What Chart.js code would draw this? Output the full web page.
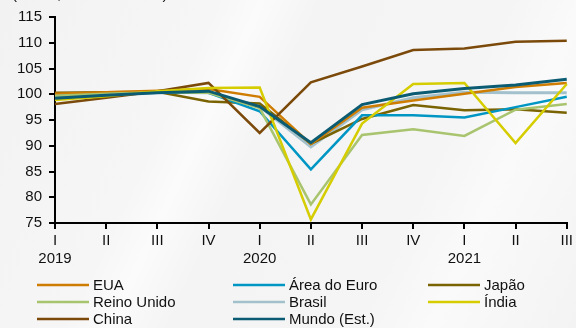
<!DOCTYPE html>
<html>
<head>
<meta charset="utf-8">
<script src="https://cdn.jsdelivr.net/npm/chart.js@4.4.1/dist/chart.umd.min.js"></script>
<style>
  html, body { margin: 0; padding: 0; }
  body {
    width: 576px; height: 328px; overflow: hidden;
    background: linear-gradient(115deg, #f2f2f2 0%, #f6f6f6 30%, #fbfbfb 36%, #f4f4f4 44%, #f5f5f5 70%, #fafafa 80%, #f3f3f3 100%);
  }
  #wrap { position: relative; width: 576px; height: 328px; }
</style>
</head>
<body>
<div id="wrap"><canvas id="pib" width="576" height="328"></canvas></div>
<script>
// trimestres e anos
const quarters = ['I', 'II', 'III', 'IV', 'I', 'II', 'III', 'IV', 'I', 'II', 'III'];
const years = ['2019', '', '', '', '2020', '', '', '', '2021', '', ''];
const yTicks = [75, 80, 85, 90, 95, 100, 105, 110, 115];

// PIB trimestral, índice
const eua = [100.1, 100.4, 100.7, 101.0, 99.5, 90.3, 97.4, 98.8, 100.1, 101.4, 102.2];
const areaEuro = [99.6, 100.0, 100.3, 100.3, 96.7, 85.4, 95.9, 95.9, 95.5, 97.5, 99.5];
const japao = [100.3, 100.4, 100.5, 98.6, 98.2, 90.4, 95.2, 97.9, 96.9, 97.1, 96.4];
const reinoUnido = [99.7, 100.1, 100.4, 100.3, 97.3, 78.6, 92.1, 93.2, 91.9, 97.0, 98.1];
const brasil = [99.8, 100.2, 100.4, 100.3, 97.6, 89.8, 97.0, 99.3, 100.4, 100.3, 100.3];
const india = [98.9, 99.6, 100.6, 101.2, 101.3, 75.7, 94.3, 102.0, 102.2, 90.5, 102.0];
const china = [98.1, 99.3, 100.6, 102.2, 92.5, 102.3, 105.4, 108.6, 108.9, 110.2, 110.4];
const mundo = [99.2, 99.8, 100.3, 100.6, 97.6, 90.6, 98.0, 100.1, 101.1, 101.8, 102.9];

const series = [
  { label: 'EUA', data: eua, color: '#cf7d02', width: 2.5, order: 6 },
  { label: 'Área do Euro', data: areaEuro, color: '#0096c4', width: 2.5, order: 5 },
  { label: 'Japão', data: japao, color: '#7a6302', width: 2.5, order: 7 },
  { label: 'Reino Unido', data: reinoUnido, color: '#a9c46e', width: 2.5, order: 4 },
  { label: 'Brasil', data: brasil, color: '#a3c1cc', width: 3, order: 8 },
  { label: 'Índia', data: india, color: '#d5cd00', width: 2.5, order: 2 },
  { label: 'China', data: china, color: '#7b4a0a', width: 2.5, order: 3 },
  { label: 'Mundo (Est.)', data: mundo, color: '#0b5c73', width: 3, order: 1 }
];

const font = { family: '"Liberation Sans", Arial, sans-serif', size: 15 };

// legenda em três colunas e título cortado no topo
const extras = {
  id: 'extras',
  afterDraw(chart) {
    const ctx = chart.ctx;
    ctx.save();
    ctx.font = '15px "Liberation Sans", Arial, sans-serif';
    ctx.fillStyle = '#111';
    ctx.textBaseline = 'alphabetic';
    ctx.textAlign = 'left';
    ctx.fillText('(Índice, 4T 2019 = 100)', 12, -1);

    const cols = [37, 233, 428];
    const rows = [285, 302, 319];
    ctx.textBaseline = 'middle';
    series.forEach((s, i) => {
      const x = cols[i % 3];
      const y = rows[Math.floor(i / 3)];
      ctx.strokeStyle = s.color;
      ctx.lineWidth = 2.5;
      ctx.beginPath();
      ctx.moveTo(x, y);
      ctx.lineTo(x + 52, y);
      ctx.stroke();
      ctx.fillStyle = '#111';
      ctx.fillText(s.label, x + 56, y + 1);
    });
    ctx.restore();
  }
};

new Chart(document.getElementById('pib'), {
  type: 'line',
  data: {
    labels: quarters,
    datasets: series.map(s => ({
      label: s.label,
      data: s.data,
      borderColor: s.color,
      backgroundColor: s.color,
      borderWidth: s.width,
      pointRadius: 0,
      tension: 0,
      order: s.order
    }))
  },
  options: {
    responsive: false,
    animation: false,
    layout: { autoPadding: false, padding: { top: 17, right: 6, bottom: 60, left: 0 } },
    plugins: { legend: { display: false }, tooltip: { enabled: false } },
    scales: {
      x: {
        offset: false,
        border: { color: '#000', width: 2 },
        grid: { drawOnChartArea: false, color: '#000', lineWidth: 2, tickLength: 6 },
        ticks: {
          color: '#111', font: font, padding: 3, maxRotation: 0, autoSkip: false,
          callback: (v, i) => years[i] ? [quarters[i], years[i]] : quarters[i]
        },
        afterFit: (axis) => { axis.height = 45; }
      },
      y: {
        min: 75, max: 115,
        border: { color: '#000', width: 2 },
        grid: { drawOnChartArea: false, color: '#000', lineWidth: 2, tickLength: 6 },
        afterBuildTicks: (axis) => { axis.ticks = yTicks.map(v => ({ value: v })); },
        ticks: { color: '#111', font: font, padding: 7, autoSkip: false },
        afterFit: (axis) => { axis.width = 55; }
      }
    }
  },
  plugins: [extras]
});
</script>
</body>
</html>
